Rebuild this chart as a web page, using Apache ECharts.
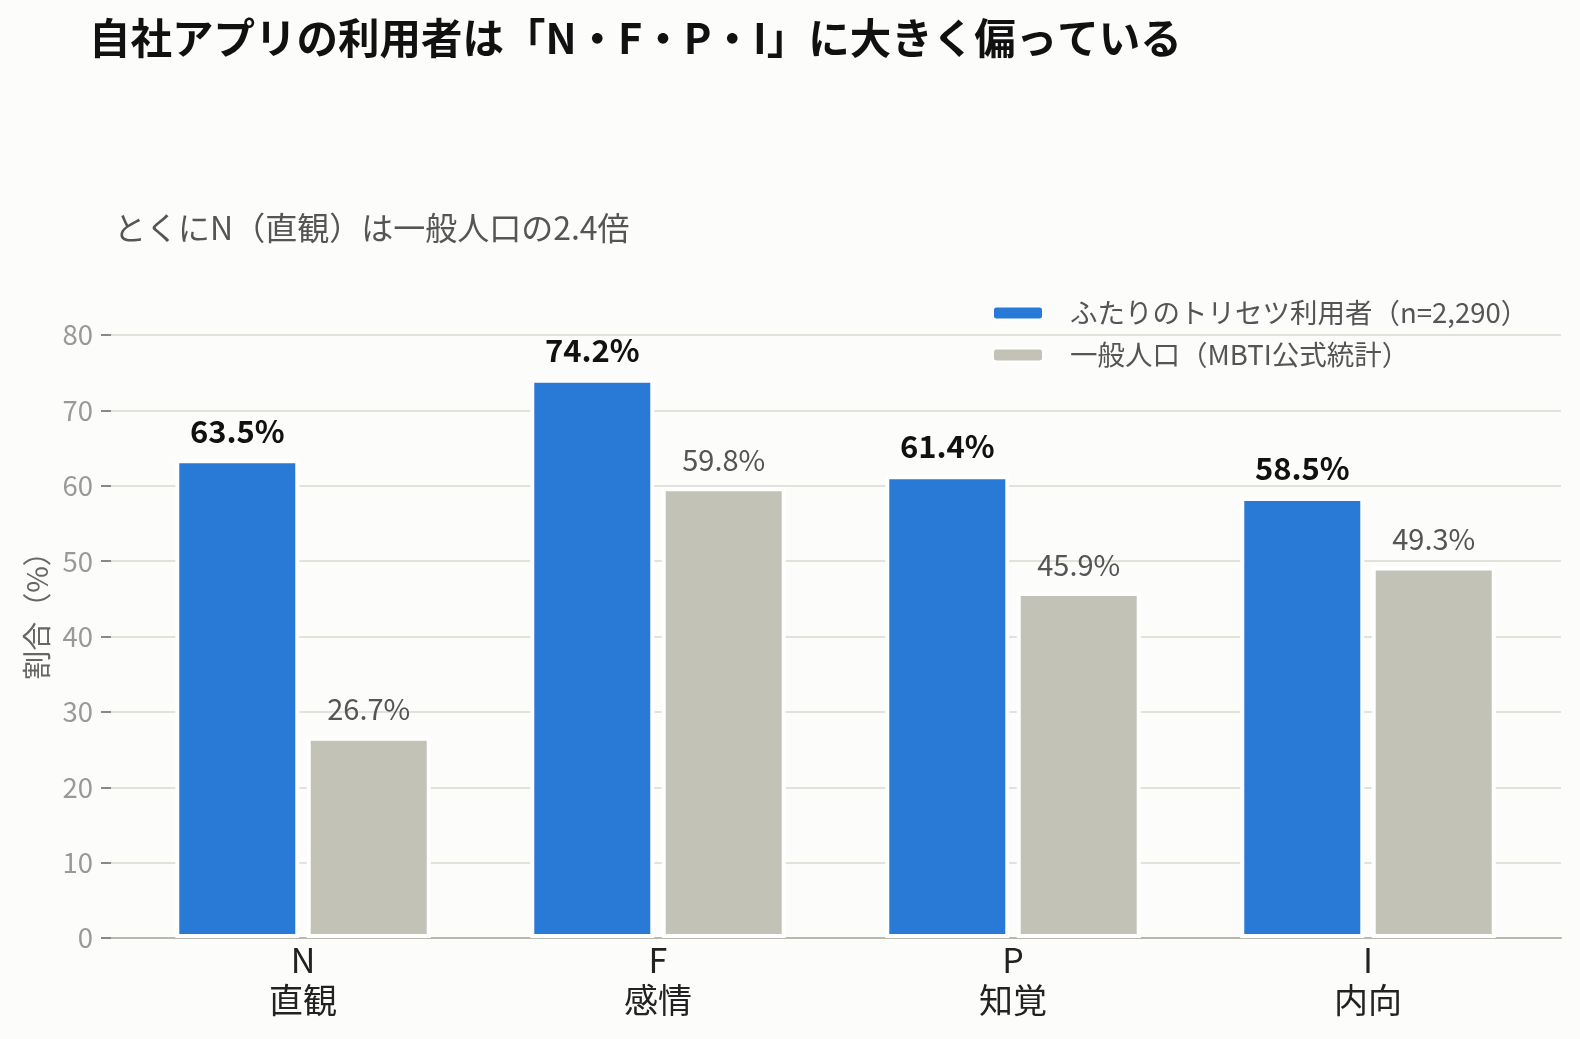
<!DOCTYPE html>
<html>
<head>
<meta charset="utf-8">
<script src="https://cdn.jsdelivr.net/npm/echarts@6/dist/echarts.min.js"></script>
<style>
html,body{margin:0;padding:0;background:#fcfcfa;}
#main{width:1580px;height:1039px;}
</style>
</head>
<body>
<div id="main"></div>
<script>
const categories = ['N\n直観', 'F\n感情', 'P\n知覚', 'I\n内向'];
const appUsers = [63.5, 74.2, 61.4, 58.5];
const generalPop = [26.7, 59.8, 45.9, 49.3];
const seriesNames = ['ふたりのトリセツ利用者（n=2,290）', '一般人口（MBTI公式統計）'];
const titleText = '自社アプリの利用者は「N・F・P・I」に大きく偏っている';
const subtitleText = 'とくにN（直観）は一般人口の2.4倍';
const yAxisName = '割合（%）';

const FONT = '"Noto Sans CJK JP", "Noto Sans", sans-serif';
const chart = echarts.init(document.getElementById('main'), null, {renderer: 'canvas'});

const pct = p => p.value.toFixed(1) + '%';

chart.setOption({
  backgroundColor: '#fcfcfa',
  textStyle: {fontFamily: FONT},
  title: [
    {text: titleText, left: 84, top: 12,
     textStyle: {fontFamily: FONT, fontSize: 41.5, fontWeight: 'bold', color: '#111'}},
    {text: subtitleText, left: 109, top: 207,
     textStyle: {fontFamily: FONT, fontSize: 32, fontWeight: 'normal', color: '#555'}}
  ],
  legend: {
    orient: 'vertical', left: 987, top: 293, itemWidth: 50, itemHeight: 13, itemGap: 12,
    textStyle: {fontFamily: FONT, fontSize: 27.5, color: '#555', lineHeight: 30, padding: [0, 0, 0, 22]},
    data: seriesNames
  },
  grid: [
    {left: 111, right: 19, top: 335, bottom: 101},
    {left: 125.5, right: 34.5, top: 335, bottom: 101}
  ],
  xAxis: [
    {gridIndex: 0, type: 'value', min: 0, max: 1, axisLabel: {show: false}, axisTick: {show: false},
     splitLine: {show: false}, axisLine: {show: true, lineStyle: {color: '#b9b8ae', width: 2}}},
    {gridIndex: 1, type: 'category', data: categories, axisLine: {show: false}, axisTick: {show: false},
     axisLabel: {margin: 2, fontFamily: FONT, fontSize: 34, color: '#222', lineHeight: 40}}
  ],
  yAxis: [
    {gridIndex: 0, type: 'value', min: 0, max: 80, interval: 10,
     name: yAxisName, nameLocation: 'middle', nameRotate: 90, nameGap: 60,
     nameTextStyle: {fontFamily: FONT, fontSize: 29, color: '#666', padding: [0, 0, 0, 56]},
     axisLine: {show: false},
     axisTick: {show: true, length: 10, lineStyle: {color: '#888', width: 2}},
     axisLabel: {margin: 18, fontFamily: FONT, fontSize: 27.5, color: '#999'},
     splitLine: {show: true, lineStyle: {color: '#e2e1da', width: 2}}},
    {gridIndex: 1, type: 'value', min: 0, max: 80, interval: 10, show: false,
     splitLine: {show: false}}
  ],
  series: [
    {name: seriesNames[0], type: 'bar', xAxisIndex: 1, yAxisIndex: 1, data: appUsers,
     barWidth: 124, barGap: '6%',
     itemStyle: {color: '#2979d6', borderColor: '#ffffff', borderWidth: 4},
     label: {show: true, position: 'top', distance: 13, formatter: pct,
             fontFamily: FONT, fontSize: 31, fontWeight: 'bold', color: '#111'}},
    {name: seriesNames[1], type: 'bar', xAxisIndex: 1, yAxisIndex: 1, data: generalPop,
     barWidth: 124,
     itemStyle: {color: '#c3c2b6', borderColor: '#ffffff', borderWidth: 4},
     label: {show: true, position: 'top', distance: 13, formatter: pct,
             fontFamily: FONT, fontSize: 29, fontWeight: 'normal', color: '#555'}}
  ]
});
</script>
</body>
</html>
